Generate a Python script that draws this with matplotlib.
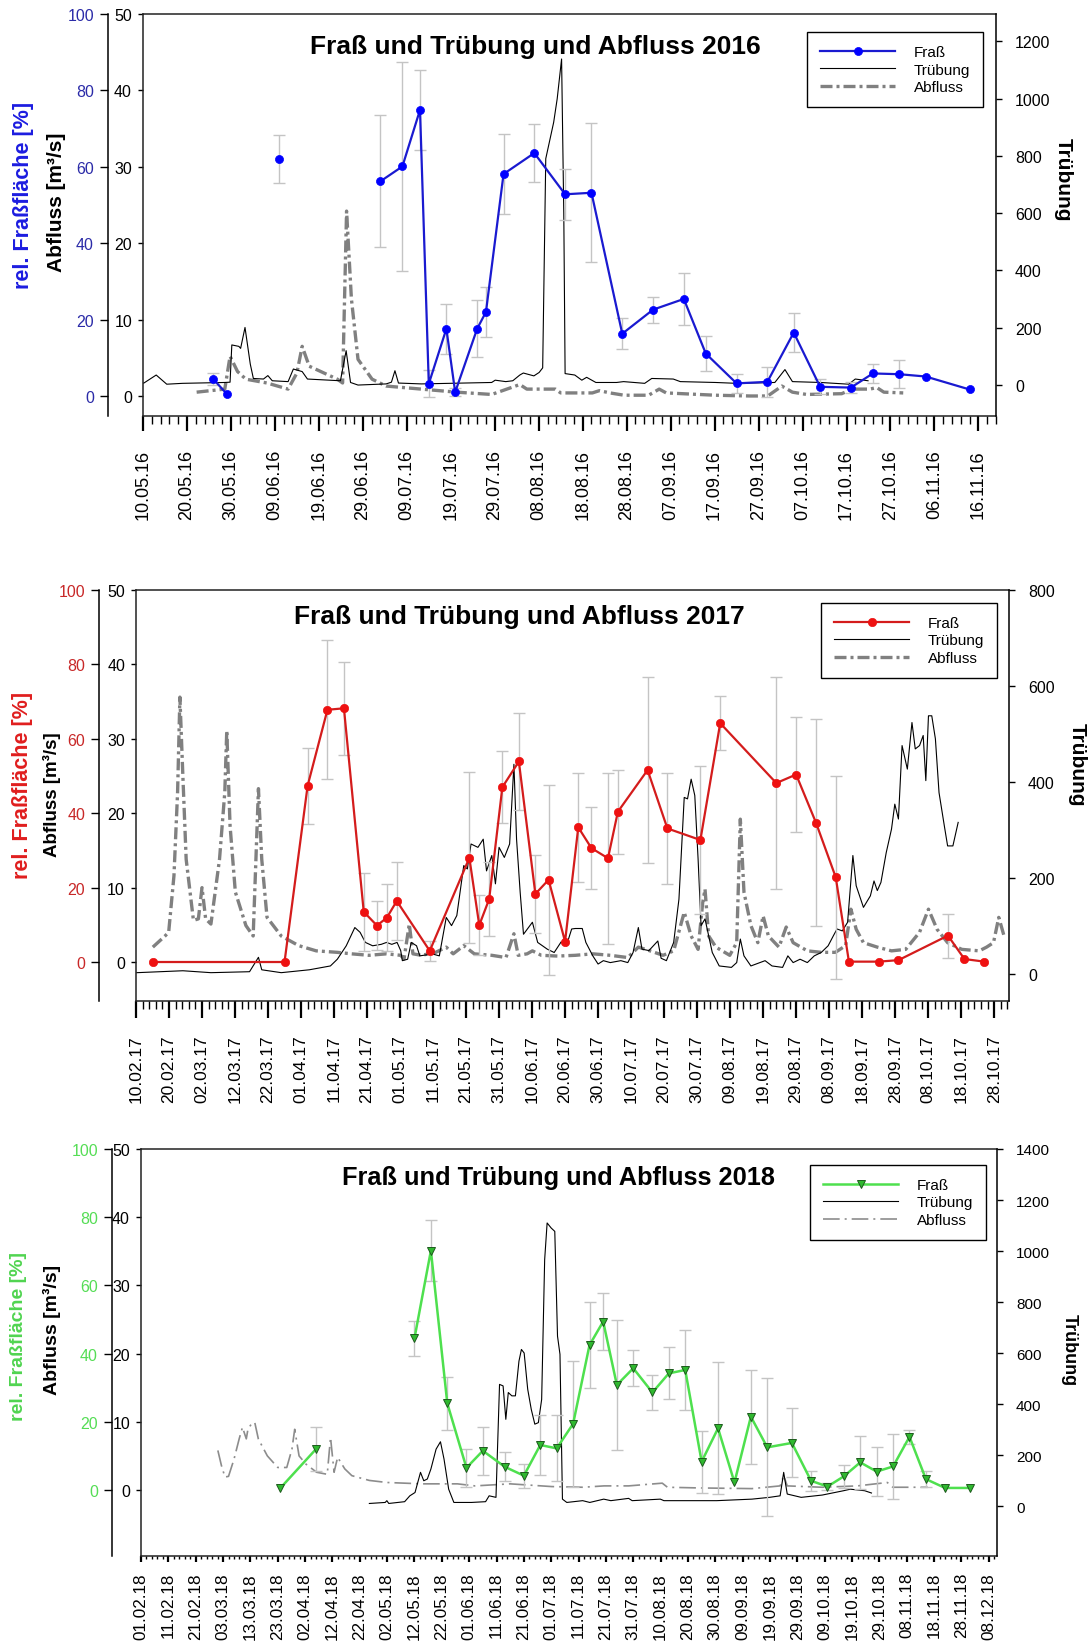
import numpy as np
import pandas as pd
import matplotlib
matplotlib.use("Agg")
import matplotlib.pyplot as plt
import matplotlib.dates as mdates
from matplotlib.lines import Line2D

plt.rcParams['font.family'] = ['Liberation Sans', 'DejaVu Sans']

# ---------------------------------------------------------------- 2016
x16_labels = ['10.05.16', '20.05.16', '30.05.16', '09.06.16', '19.06.16', '29.06.16',
              '09.07.16', '19.07.16', '29.07.16', '08.08.16', '18.08.16', '28.08.16',
              '07.09.16', '17.09.16', '27.09.16', '07.10.16', '17.10.16', '27.10.16',
              '06.11.16', '16.11.16']
fr16_dates = ['26.05.16', '29.05.16', '10.06.16', '03.07.16', '08.07.16', '12.07.16', '14.07.16',
              '18.07.16', '20.07.16', '25.07.16', '27.07.16', '31.07.16', '07.08.16', '14.08.16',
              '20.08.16', '27.08.16', '03.09.16', '10.09.16', '15.09.16', '22.09.16', '29.09.16',
              '05.10.16', '11.10.16', '18.10.16', '23.10.16', '29.10.16', '04.11.16', '14.11.16']
fr16_vals = [4.4, 0.6, 62.0, 56.2, 60.1, 74.9, 3.2, 17.6, 1.0, 17.6, 22.0, 58.1, 63.6, 52.8,
             53.2, 16.3, 22.6, 25.4, 11.1, 3.3, 3.7, 16.6, 2.4, 2.2, 5.9, 5.7, 5.1, 1.7]
fr16_err = [1.5, 0, 6.2, 17.3, 27.4, 10.4, 3.5, 6.6, 1.0, 7.5, 6.5, 10.5, 7.6, 6.6,
            18.2, 4.0, 3.4, 6.9, 4.6, 2.5, 4.0, 5.2, 2.0, 1.5, 2.6, 3.6, 0, 0]
fr16_group = [0, 0, 1] + [2] * 25
# Trübung and Abfluss traces: days after 10.05.16
tr16_day = [0.2, 3.0, 5.4, 9.0, 12.2, 18.6, 19.8, 20.2, 21.8, 22.2, 23.2, 24.4, 25.1, 27.4, 28.4,
            29.4, 33.0, 34.2, 36.2, 37.4, 44.9, 46.2, 47.2, 48.9, 55.3, 56.5, 57.3, 58.1, 63.3,
            79.3, 80.1, 82.5, 84.1, 85.7, 86.5, 88.9, 90.1, 90.9, 91.6, 93.4, 94.2, 95.2, 95.7,
            96.0, 98.2, 99.8, 100.9, 103.0, 107.7, 109.3, 114.1, 115.7, 120.6, 122.2, 130.2,
            135.0, 143.7, 146.0, 147.7, 154.1, 160.5, 162.0, 164.9]
tr16_val = [7, 35, 3, 6, 7, 9, 10, 140, 135, 128, 201, 73, 23, 21, 33, 15, 12, 56, 47, 21, 15,
            120, 9, 0, 4, 10, 50, 7, 4, 9, 17, 12, 15, 35, 42, 32, 44, 60, 790, 917, 999, 1138,
            600, 40, 35, 17, 27, 9, 9, 12, 6, 23, 21, 12, 9, 6, 9, 54, 12, 9, 3, 21, 15]
ab16_day = [12.2, 18.6, 19.8, 21.5, 23.4, 28.2, 33.0, 35.0, 36.2, 37.8, 44.2, 45.4, 46.3, 47.4,
            48.9, 52.1, 55.3, 63.3, 71.3, 79.3, 85.7, 87.3, 92.7, 93.8, 95.0, 102.2, 103.8,
            106.2, 109.4, 115.0, 117.4, 119.0, 130.1, 138.1, 142.1, 145.3, 147.7, 150.9, 158.9,
            161.3, 165.3, 166.9, 168.5, 172.9]
ab16_val = [0.5, 0.9, 5.2, 3.2, 2.2, 1.7, 0.9, 3.0, 6.5, 3.9, 2.2, 1.7, 24.2, 12.7, 4.8, 2.2,
            1.3, 0.9, 0.5, 0.2, 1.5, 0.9, 0.9, 0.9, 0.4, 0.4, 0.7, 0.4, 0.1, 0.1, 0.9, 0.4,
            0.1, 0.0, 0.0, 1.3, 0.5, 0.2, 0.3, 0.9, 0.9, 1.1, 0.5, 0.4]

# ---------------------------------------------------------------- 2017
x17_labels = ['10.02.17', '20.02.17', '02.03.17', '12.03.17', '22.03.17', '01.04.17',
              '11.04.17', '21.04.17', '01.05.17', '11.05.17', '21.05.17', '31.05.17',
              '10.06.17', '20.06.17', '30.06.17', '10.07.17', '20.07.17', '30.07.17',
              '09.08.17', '19.08.17', '29.08.17', '08.09.17', '18.09.17', '28.09.17',
              '08.10.17', '18.10.17', '28.10.17']
fr17_dates = ['15.02.17', '27.03.17', '03.04.17', '09.04.17', '14.04.17', '20.04.17', '24.04.17',
              '27.04.17', '30.04.17', '10.05.17', '22.05.17', '25.05.17', '28.05.17', '01.06.17',
              '06.06.17', '11.06.17', '15.06.17', '20.06.17', '24.06.17', '28.06.17', '03.07.17',
              '06.07.17', '15.07.17', '21.07.17', '31.07.17', '06.08.17', '23.08.17', '29.08.17',
              '04.09.17', '10.09.17', '14.09.17', '23.09.17', '29.09.17', '14.10.17', '19.10.17',
              '25.10.17']
fr17_vals = [0, 0, 47.4, 67.8, 68.2, 13.5, 9.8, 11.9, 16.4, 3.0, 28.0, 9.9, 16.9, 47.0, 53.9,
             18.3, 22.1, 5.5, 36.2, 30.6, 27.9, 40.4, 51.6, 35.9, 32.8, 64.2, 48.1, 50.4, 37.5,
             22.8, 0.1, 0.1, 0.5, 7.1, 0.8, 0.1]
fr17_err = [0, 0, 10.2, 18.7, 12.5, 10.5, 6.5, 9.0, 10.5, 2.7, 23.0, 8.0, 10.0, 9.6, 13.0, 10.6,
            25.6, 0, 14.6, 11.0, 23.0, 11.3, 25.0, 15.0, 20.0, 7.3, 28.5, 15.5, 27.8, 27.3, 0, 0,
            0, 5.9, 0, 0]
fr17_group = [0] * 36
# days after 10.02.17
tr17_day = [0.3, 14.2, 22.7, 34.4, 37.1, 38.1, 44.0, 52.5, 58.9, 61.0, 63.7, 66.3, 67.9, 69.5,
            71.7, 74.3, 75.9, 77.5, 79.1, 80.2, 80.7, 82.3, 83.4, 85.0, 86.0, 89.8, 91.9, 94.0,
            95.6, 97.2, 99.3, 100.4, 101.5, 103.6, 105.2, 106.2, 107.8, 108.9, 110.0, 111.6,
            113.2, 114.5, 115.3, 116.4, 117.4, 120.1, 121.7, 124.6, 126.7, 128.8, 130.4, 132.0,
            133.1, 135.2, 136.3, 138.4, 140.0, 141.6, 143.7, 146.9, 149.0, 150.6, 152.2, 153.3,
            155.4, 158.1, 159.1, 160.7, 162.9, 164.5, 166.1, 167.1, 168.2, 169.3, 170.3, 171.2,
            172.4, 174.6, 176.7, 180.4, 182.0, 183.1, 184.2, 186.3, 190.6, 192.7, 195.9, 197.5,
            199.1, 201.2, 203.4, 205.5, 207.6, 209.7, 211.3, 212.4, 214.0, 215.6, 217.2, 218.2,
            220.4, 222.5, 223.6, 224.6, 225.7, 227.3, 228.9, 229.9, 231.0, 232.1, 233.7, 235.1,
            236.1, 237.4, 238.5, 239.3, 240.1, 241.1, 242.2, 243.3, 244.9, 245.9, 247.5, 249.1]
tr17_val = [3, 7, 3, 5, 35, 9, 3, 9, 17, 31, 59, 97, 87, 66, 59, 62, 66, 62, 66, 49, 28, 31, 66,
            59, 38, 42, 38, 118, 101, 122, 226, 219, 271, 264, 281, 215, 247, 188, 264, 243, 271,
            437, 281, 170, 83, 108, 66, 52, 45, 67, 59, 94, 95, 95, 66, 38, 21, 28, 24, 28, 24,
            45, 97, 52, 49, 69, 33, 28, 66, 156, 368, 365, 406, 372, 240, 101, 115, 45, 17, 14,
            24, 73, 38, 17, 28, 17, 14, 38, 24, 31, 24, 38, 45, 59, 80, 94, 90, 108, 247, 184,
            139, 163, 194, 174, 191, 253, 302, 354, 323, 476, 427, 524, 469, 476, 497, 403, 538,
            538, 490, 378, 309, 267, 267, 316]
ab17_day = [5.1, 8.8, 9.9, 11.5, 12.6, 13.3, 14.2, 15.2, 17.4, 18.9, 20.0, 21.1, 22.7, 25.3,
            26.9, 27.5, 28.5, 30.1, 33.3, 35.5, 37.1, 38.1, 39.7, 44.0, 49.3, 54.6, 61.0, 65.3,
            70.6, 75.9, 80.2, 81.2, 82.8, 83.9, 86.5, 90.8, 94.0, 96.1, 99.3, 102.5, 107.8,
            112.1, 114.5, 115.8, 118.5, 120.1, 122.8, 127.7, 133.1, 138.4, 143.7, 149.0, 152.2,
            154.4, 159.7, 162.9, 165.0, 166.1, 168.2, 170.3, 171.7, 172.4, 173.5, 175.7, 179.9,
            182.0, 183.1, 184.2, 186.3, 188.4, 190.0, 191.6, 194.8, 197.0, 199.1, 203.4, 207.6,
            211.9, 215.0, 216.6, 218.2, 220.4, 224.6, 228.9, 233.2, 237.4, 240.1, 242.7, 245.9,
            250.2, 255.5, 257.7, 259.8, 261.4, 263.0]
ab17_val = [2.0, 3.5, 4.0, 11.6, 22.8, 35.6, 25.0, 13.8, 5.6, 5.8, 10.0, 5.8, 5.1, 13.8, 22.8,
            31.1, 18.3, 9.4, 4.9, 3.5, 23.3, 13.8, 6.0, 3.5, 2.2, 1.5, 1.3, 1.1, 0.9, 1.1, 0.9,
            0.4, 5.1, 1.1, 0.9, 1.3, 2.0, 1.1, 2.2, 1.1, 0.9, 0.6, 3.8, 0.9, 1.1, 1.5, 0.9, 0.8,
            0.9, 1.1, 0.9, 0.6, 2.0, 1.7, 0.9, 1.5, 4.9, 6.7, 3.5, 1.7, 8.0, 9.8, 3.5, 2.0, 0.9,
            2.6, 19.2, 9.4, 4.9, 2.6, 6.2, 3.5, 2.0, 4.7, 2.6, 1.5, 1.3, 1.3, 2.2, 7.1, 4.4, 2.6,
            2.0, 1.5, 1.7, 4.0, 7.1, 4.4, 2.6, 1.7, 1.5, 2.0, 2.6, 6.0, 3.5]

# ---------------------------------------------------------------- 2018
x18_labels = ['01.02.18', '11.02.18', '21.02.18', '03.03.18', '13.03.18', '23.03.18',
              '02.04.18', '12.04.18', '22.04.18', '02.05.18', '12.05.18', '22.05.18',
              '01.06.18', '11.06.18', '21.06.18', '01.07.18', '11.07.18', '21.07.18',
              '31.07.18', '10.08.18', '20.08.18', '30.08.18', '09.09.18', '19.09.18',
              '29.09.18', '09.10.18', '19.10.18', '29.10.18', '08.11.18', '18.11.18',
              '28.11.18', '08.12.18']
fr18_dates = ['24.03.18', '06.04.18', '12.05.18', '18.05.18', '24.05.18', '31.05.18', '06.06.18',
              '14.06.18', '21.06.18', '27.06.18', '03.07.18', '09.07.18', '15.07.18', '20.07.18',
              '25.07.18', '31.07.18', '07.08.18', '13.08.18', '19.08.18', '25.08.18', '31.08.18',
              '06.09.18', '12.09.18', '18.09.18', '27.09.18', '04.10.18', '10.10.18', '16.10.18',
              '22.10.18', '28.10.18', '03.11.18', '09.11.18', '15.11.18', '22.11.18', '01.12.18']
fr18_vals = [0.6, 12.0, 44.5, 70.2, 25.4, 6.5, 11.5, 6.8, 4.2, 13.2, 12.2, 19.4, 42.5, 49.4,
             30.8, 35.7, 28.6, 34.2, 35.2, 8.3, 18.1, 2.2, 21.5, 12.5, 13.8, 2.7, 1.0, 4.0, 8.1,
             5.4, 6.9, 15.6, 3.2, 0.6, 0.6]
fr18_err = [0, 6.5, 5.2, 9.0, 7.7, 5.5, 7.0, 4.2, 3.5, 8.7, 9.7, 18.5, 12.6, 8.3, 19.0, 5.3,
            5.0, 7.6, 11.6, 9.1, 19.4, 0, 13.8, 20.2, 10.1, 3.0, 1.0, 3.4, 7.8, 7.2, 9.5, 2.0,
            2.3, 0, 0]
fr18_group = [0, 0] + [1] * 33
# days after 01.02.18
tr18_day = [83.5, 89.3, 89.9, 90.6, 96.4, 98.3, 100.2, 102.2, 103.4, 104.7, 106.0, 107.9, 109.5,
            110.8, 112.5, 114.4, 120.8, 126.0, 127.3, 129.8, 131.1, 132.4, 133.4, 134.3, 135.6,
            136.9, 138.2, 139.1, 140.1, 141.4, 142.7, 144.0, 145.3, 146.5, 147.6, 148.5, 150.0,
            151.3, 152.3, 153.2, 154.1, 155.7, 161.5, 164.1, 169.2, 171.8, 178.3, 179.6, 189.9,
            191.2, 210.5, 223.4, 229.8, 233.7, 235.0, 236.3, 241.4, 249.1, 256.9, 259.4, 264.6,
            267.1]
tr18_val = [10, 14, 21, 10, 17, 40, 53, 132, 99, 106, 145, 223, 252, 184, 66, 14, 14, 17, 40, 34,
            477, 471, 340, 445, 432, 432, 568, 614, 600, 458, 379, 321, 327, 418, 966, 1110,
            1090, 1077, 666, 595, 27, 14, 21, 14, 27, 21, 30, 21, 27, 21, 21, 27, 34, 40, 132,
            47, 34, 43, 60, 66, 60, 51]
ab18_day = [28.1, 29.4, 30.7, 32.0, 34.0, 35.9, 37.1, 38.5, 39.1, 40.4, 41.6, 42.9, 44.2, 46.2,
            50.0, 53.3, 55.2, 56.2, 57.8, 60.3, 64.2, 68.1, 69.3, 70.6, 71.9, 74.5, 77.1, 83.5,
            89.9, 96.4, 102.8, 115.7, 122.1, 135.0, 150.2, 161.6, 169.3, 178.3, 190.6, 192.5,
            204.1, 223.4, 233.7, 235.0, 236.3, 249.1, 262.0, 272.9, 274.9, 287.7]
ab18_val = [5.8, 3.6, 1.9, 2.0, 4.5, 7.5, 9.2, 7.5, 8.9, 9.7, 9.9, 7.5, 6.5, 5.0, 3.3, 3.3, 6.0,
            8.9, 5.0, 3.8, 2.6, 2.3, 7.7, 2.6, 4.8, 3.1, 2.1, 1.4, 1.1, 1.0, 0.9, 0.9, 0.6, 0.9,
            0.5, 0.4, 0.6, 0.6, 1.0, 0.4, 0.3, 0.2, 0.6, 2.1, 0.6, 0.4, 0.6, 1.1, 0.4, 0.4]

legend_labels = ['Fraß', 'Trübung', 'Abfluss']

W, H = 1091, 1649
fig = plt.figure(figsize=(W / 100, H / 100), dpi=100)
PT = 0.72  # points per pixel at 100 dpi


def panel(box, x_end, xlabels, a_low, t_lim, t_ticks, fr_dates, fr_vals, fr_err, fr_group,
          tr_day, tr_val, ab_day, ab_val, title, st):
    l, t, r, b = box
    ax = fig.add_axes([l / W, 1 - b / H, (r - l) / W, (b - t) / H])
    axT = ax.twinx()
    axF = ax.twinx()

    major = pd.to_datetime(xlabels, format='%d.%m.%y')
    x0 = major[0]
    ax.set_xlim(x0, pd.Timestamp(x_end))
    ax.set_ylim(a_low, 50)
    axF.set_ylim(2 * a_low, 100)
    axT.set_ylim(*t_lim)

    # Abfluss (left inner scale)
    ax.plot(x0 + pd.to_timedelta(ab_day, unit='D'), ab_val, color=st['ab_color'],
            lw=st['ab_lw'], ls=st['ab_ls'], zorder=2)
    # Trübung (right scale)
    axT.plot(x0 + pd.to_timedelta(tr_day, unit='D'), tr_val, color='black', lw=0.8, zorder=2)
    # Fraß (left outer scale) with error bars
    fd = pd.to_datetime(fr_dates, format='%d.%m.%y')
    fv = np.asarray(fr_vals, dtype=float)
    fe = np.asarray(fr_err, dtype=float)
    fg = np.asarray(fr_group)
    m = fe > 0
    axF.errorbar(fd[m], fv[m], yerr=fe[m], fmt='none', ecolor='#c4c4c4', elinewidth=1.0,
                 capsize=4.3, capthick=1.0, zorder=1)
    for g in np.unique(fg):
        k = fg == g
        axF.plot(fd[k], fv[k], color=st['color'], lw=st['lw'], marker=st['marker'],
                 ms=st['ms'], mfc=st['mfc'], mec=st['mec'], mew=st['mew'], zorder=3)

    # frame and spines
    for s in ['top', 'left', 'bottom']:
        ax.spines[s].set_color('#222222')
        ax.spines[s].set_linewidth(1.1)
    ax.spines['right'].set_visible(False)
    for s in ['top', 'left', 'bottom']:
        axT.spines[s].set_visible(False)
    axT.spines['right'].set_linewidth(1.1)
    for s in ['top', 'right', 'bottom']:
        axF.spines[s].set_visible(False)
    axF.spines['left'].set_visible(True)
    axF.spines['left'].set_linewidth(1.1)
    axF.spines['left'].set_position(('outward', st['off'] * PT))
    axF.yaxis.tick_left()
    axF.yaxis.set_label_position('left')

    ax.set_yticks([0, 10, 20, 30, 40, 50])
    axF.set_yticks([0, 20, 40, 60, 80, 100])
    axT.set_yticks(t_ticks)
    ax.tick_params(axis='y', direction='out', length=5 * PT, width=1, labelsize=st['yfs'],
                   pad=6 * PT)
    axF.tick_params(axis='y', direction='out', length=8 * PT, width=1, labelsize=st['yfs'],
                    pad=6 * PT, labelcolor=st['tick_color'])
    axT.tick_params(axis='y', direction='out', length=6 * PT, width=1, labelsize=st['tfs'],
                    pad=13 * PT)

    ax.set_xticks(mdates.date2num(major))
    ax.set_xticklabels(xlabels)
    minor = pd.date_range(x0, pd.Timestamp(x_end), freq='2D')
    ax.set_xticks(mdates.date2num(minor), minor=True)
    ax.tick_params(axis='x', which='major', direction='out', length=st['xmaj'] * PT, width=1.6,
                   pad=st['xpad'] * PT, labelsize=st['xfs'], labelrotation=90)
    ax.tick_params(axis='x', which='minor', direction='out', length=st['xmin'] * PT, width=1)

    # texts
    tx, ty = st['title_xy']
    fig.text(tx / W, 1 - ty / H, title, ha='center', va='center', fontsize=st['title_fs'],
             fontweight='bold')
    fx_, fy_ = st['fr_lab']
    fig.text(fx_ / W, 1 - fy_ / H, 'rel. Fraßfläche [%]', rotation=90, ha='center',
             va='center', color=st['lab_color'], fontsize=st['fr_fs'], fontweight='bold')
    axx, axy = st['ab_lab']
    fig.text(axx / W, 1 - axy / H, 'Abfluss [m³/s]', rotation=90, ha='center', va='center',
             fontsize=st['ab_fs'], fontweight='bold')
    trx, trY = st['tr_lab']
    fig.text(trx / W, 1 - trY / H, 'Trübung', rotation=270, ha='center', va='center',
             fontsize=st['tr_fs'], fontweight='bold')

    handles = [Line2D([], [], color=st['color'], lw=st['lw'], marker=st['marker'], ms=st['ms'],
                      mfc=st['mfc'], mec=st['mec'], mew=st['mew']),
               Line2D([], [], color='black', lw=0.8),
               Line2D([], [], color=st['ab_color'], lw=st['ab_lw'], ls=st['ab_ls'])]
    lx1, ly0 = st['leg']
    leg = fig.legend(handles, legend_labels, loc='upper right',
                     bbox_to_anchor=(lx1 / W, 1 - ly0 / H), bbox_transform=fig.transFigure,
                     borderaxespad=0, fancybox=False, edgecolor='black', framealpha=1,
                     fontsize=11, handlelength=4.9, handletextpad=1.2, labelspacing=0.23,
                     borderpad=0.85)
    leg.get_frame().set_linewidth(1.0)


style16 = dict(color='#1a1ad0', lw=1.6, marker='o', ms=5.8, mfc='#0000ff', mec='#0000ff', mew=0.5,
               tick_color='#2b2ba8', lab_color='#1c1ce0',
               ab_color='#808080', ab_lw=2.4, ab_ls=(0, (3.6, 1.2, 0.9, 1.2)),
               off=35, yfs=11.5, tfs=11.5, xfs=13, xmaj=15, xmin=8, xpad=18,
               title_xy=(535, 47), title_fs=19, fr_lab=(24, 195), fr_fs=15.5,
               ab_lab=(56, 202), ab_fs=15, tr_lab=(1063, 180), tr_fs=15, leg=(983, 33))
style17 = dict(color='#d41c1c', lw=1.6, marker='o', ms=6.0, mfc='#ee1111', mec='#ee1111', mew=0.5,
               tick_color='#c82828', lab_color='#e01e1e',
               ab_color='#808080', ab_lw=2.4, ab_ls=(0, (3.6, 1.2, 0.9, 1.2)),
               off=37, yfs=11.5, tfs=11.5, xfs=12.5, xmaj=17, xmin=8, xpad=16,
               title_xy=(519, 617), title_fs=19, fr_lab=(23, 785), fr_fs=15.5,
               ab_lab=(52, 795), ab_fs=13.5, tr_lab=(1077, 765), tr_fs=15, leg=(997, 604))
style18 = dict(color='#4ee04e', lw=1.8, marker='v', ms=6.0, mfc='#2fb82f', mec='#1d5a1d', mew=0.7,
               tick_color='#55dd55', lab_color='#50d450',
               ab_color='#8c8c8c', ab_lw=1.2, ab_ls=(0, (10, 3, 1.2, 3)),
               off=29, yfs=11.5, tfs=11, xfs=12.3, xmaj=6, xmin=3, xpad=10,
               title_xy=(558, 1178), title_fs=18.3, fr_lab=(19, 1337), fr_fs=14,
               ab_lab=(52, 1330), ab_fs=14, tr_lab=(1069, 1350), tr_fs=13, leg=(986, 1166))

panel((143, 15, 996, 417), '2016-11-20', x16_labels, -2.62, (-108, 1295),
      [0, 200, 400, 600, 800, 1000, 1200], fr16_dates, fr16_vals, fr16_err, fr16_group,
      tr16_day, tr16_val, ab16_day, ab16_val, 'Fraß und Trübung und Abfluss 2016', style16)
panel((136, 591, 1009, 1002), '2017-11-01 12:00', x17_labels, -5.24, (-56, 800),
      [0, 200, 400, 600, 800], fr17_dates, fr17_vals, fr17_err, fr17_group,
      tr17_day, tr17_val, ab17_day, ab17_val, 'Fraß und Trübung und Abfluss 2017', style17)
panel((141, 1150, 997, 1557), '2018-12-11', x18_labels, -9.68, (-196, 1400),
      [0, 200, 400, 600, 800, 1000, 1200, 1400], fr18_dates, fr18_vals, fr18_err, fr18_group,
      tr18_day, tr18_val, ab18_day, ab18_val, 'Fraß und Trübung und Abfluss 2018', style18)

fig.savefig('out.png', dpi=100)
